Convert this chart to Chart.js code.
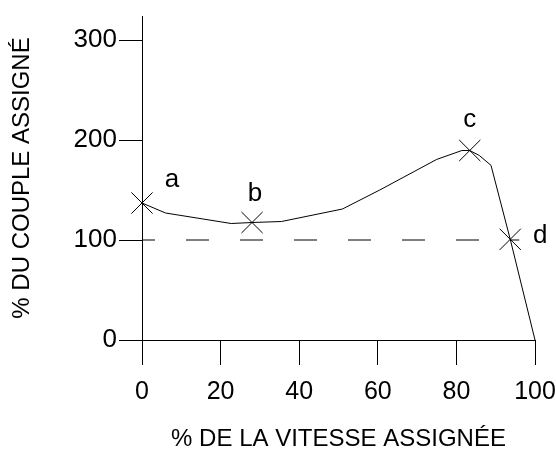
<!DOCTYPE html>
<html>
<head>
<meta charset="utf-8">
<script src="https://cdn.jsdelivr.net/npm/chart.js@4.4.1/dist/chart.umd.min.js"></script>
<style>
html, body { margin: 0; padding: 0; background: #fff; }
#wrap { width: 556px; height: 451px; }
</style>
</head>
<body>
<div id="wrap"><canvas id="chartCouple"></canvas></div>
<script>
// courbe couple / vitesse
var vitesse = [0, 6, 22.7, 28, 35.5, 51, 60.5, 75, 81.4, 83.4, 85.8, 88.8, 93.7, 100];
var couple = [137, 127, 116.5, 117.5, 118.5, 131, 150, 180.6, 189.5, 189.5, 184.6, 174.7, 100.7, 0];

// points repérés
var pointsNoms = ['a', 'b', 'c', 'd'];
var pointsVitesse = [0, 28, 83.4, 93.7];
var pointsCouple = [137, 117.5, 189.5, 100.7];

// ligne 100 % en tirets
var ligneVitesse = [0, 96];
var ligneCouple = [100, 100];

var yTicks = [0, 100, 200, 300];
var xTicks = [0, 20, 40, 60, 80, 100];

function xy(xs, ys) {
    return xs.map(function(x, i) { return {x: x, y: ys[i]}; });
}

// décalage des lettres par rapport aux croix (px)
var lettreDecal = {a: [30, -23], b: [3, -29], c: [0, -31], d: [30, -3]};

var lettres = {
    id: 'lettres',
    afterDatasetsDraw: function(chart) {
        var ctx = chart.ctx;
        var meta = chart.getDatasetMeta(2);
        ctx.save();
        ctx.font = '26px "Liberation Sans", Arial, sans-serif';
        ctx.fillStyle = '#000';
        ctx.textAlign = 'center';
        ctx.textBaseline = 'middle';
        meta.data.forEach(function(pt, i) {
            var n = pointsNoms[i];
            ctx.fillText(n, pt.x + lettreDecal[n][0], pt.y + lettreDecal[n][1]);
        });
        ctx.restore();
    }
};

var police = '"Liberation Sans", Arial, sans-serif';

var ctx = document.getElementById('chartCouple').getContext('2d');
var chart = new Chart(ctx, {
    type: 'scatter',
    data: {
        datasets: [{
            data: xy(vitesse, couple),
            showLine: true,
            borderColor: '#000',
            borderWidth: 1,
            pointRadius: 0,
            tension: 0,
            clip: false
        }, {
            data: xy(ligneVitesse, ligneCouple),
            showLine: true,
            borderColor: '#000',
            borderWidth: 1,
            borderDash: [23, 31],
            borderDashOffset: 10,
            pointRadius: 0
        }, {
            data: xy(pointsVitesse, pointsCouple),
            showLine: false,
            pointStyle: 'crossRot',
            pointRadius: 15,
            pointBorderColor: '#000',
            pointBorderWidth: 1,
            clip: false
        }]
    },
    options: {
        responsive: true,
        maintainAspectRatio: false,
        animation: false,
        layout: { padding: { top: 12, right: 21, left: 0, bottom: 0 } },
        plugins: {
            legend: { display: false },
            tooltip: { enabled: false }
        },
        scales: {
            x: {
                type: 'linear',
                min: 0,
                max: 100,
                afterBuildTicks: function(s) { s.ticks = xTicks.map(function(v) { return {value: v}; }); },
                afterFit: function(s) { s.height = 111; s.paddingLeft = 0; s.paddingRight = 0; },
                border: { display: true, color: '#000', width: 1 },
                grid: { drawOnChartArea: false, drawTicks: true, tickLength: 25, color: '#000' },
                ticks: { color: '#000', padding: 12, maxRotation: 0, font: { family: 'Liberation Sans', size: 25 } },
                title: {
                    display: true,
                    text: '% DE LA VITESSE ASSIGNÉE',
                    color: '#000',
                    padding: 0,
                    font: { family: police, size: 24, lineHeight: 1 }
                }
            },
            y: {
                type: 'linear',
                min: 0,
                max: 324,
                afterBuildTicks: function(s) { s.ticks = yTicks.map(function(v) { return {value: v}; }); },
                afterFit: function(s) { s.width = 142; s.paddingTop = 0; s.paddingBottom = 0; },
                border: { display: true, color: '#000', width: 1 },
                grid: { drawOnChartArea: false, drawTicks: true, tickLength: 23, color: '#000' },
                ticks: { color: '#000', padding: 2, font: { family: 'Liberation Sans', size: 26 } },
                title: {
                    display: true,
                    text: '% DU COUPLE ASSIGNÉ',
                    color: '#000',
                    padding: { top: 10 },
                    font: { family: police, size: 24, lineHeight: 1 }
                }
            }
        }
    },
    plugins: [lettres]
});
</script>
</body>
</html>
